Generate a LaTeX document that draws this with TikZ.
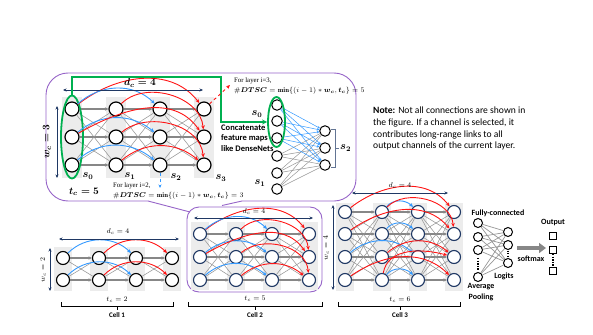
\documentclass[tikz,border=0pt]{standalone}
\usepackage{amsmath}
\usepackage{bm}
\usepackage{fontspec}
\newfontfamily\carl{Carlito}
\newfontfamily\tms{Liberation Serif}
\usetikzlibrary{arrows.meta,shapes.geometric}
\definecolor{pur}{RGB}{150,100,200}
\definecolor{grn}{RGB}{0,176,80}
\definecolor{navy}{RGB}{31,56,100}
\definecolor{egray}{RGB}{150,150,150}
\definecolor{hgray}{RGB}{135,135,135}
\definecolor{stripe}{RGB}{236,236,236}
\definecolor{lblue}{RGB}{51,153,255}
\definecolor{rred}{RGB}{255,20,20}
\tikzset{
 nd/.style={circle,draw=#1,fill=white,line width=1.2pt,minimum size=14pt,inner sep=0},
 cnd/.style={circle,draw=#1,fill=white,line width=1.1pt,minimum size=13pt,inner sep=0},
 sn/.style={circle,draw,fill=white,line width=1pt,minimum size=10.5pt,inner sep=0},
 fn/.style={circle,draw,fill=white,line width=1pt,minimum size=9pt,inner sep=0},
 sq/.style={rectangle,draw,fill=white,line width=1.1pt,minimum size=7pt,inner sep=0},
 ge/.style={egray,line width=0.55pt},
 geh/.style={hgray,line width=1.1pt,-{Stealth[length=3.5pt,width=3.5pt]}},
 ra/.style={rred,line width=0.9pt,-{Stealth[length=4pt,width=3.5pt]}},
 ba/.style={lblue,line width=0.9pt,-{Stealth[length=4pt,width=3.5pt]}},
 thinb/.style={lblue,line width=0.5pt,-{Stealth[length=2.5pt,width=2.5pt]}},
 thing/.style={egray,line width=0.5pt},
 dimarr/.style={navy,line width=0.8pt,{Stealth[length=3.5pt,width=3pt]}-{Stealth[length=3.5pt,width=3pt]}},
 big/.style={inner sep=0,font=\fontsize{10.5}{12}\selectfont\boldmath},
 mid/.style={inner sep=0,font=\fontsize{9.6}{11}\selectfont\boldmath},
 sml/.style={inner sep=0,font=\fontsize{7}{8}\selectfont},
 cbf/.style={inner sep=0,font=\carl\bfseries\fontsize{8}{9.5}\selectfont},
 tms7/.style={inner sep=0,anchor=west,font=\tms\fontsize{6.8}{8}\selectfont},
 brk/.style={black,line width=1pt},
 pbox/.style={pur,line width=0.9pt},
 dotv/.style={black,line width=1.3pt,dash pattern=on 1.3pt off 1.3pt},
}
\newcommand\gridnodes[7]{%
 \foreach \xx in {#2} {\fill[stripe] (\xx-#7,#5) rectangle (\xx+#7,#6);}
 \foreach \xx [count=\ci from 0] in {#2} {\foreach \yy [count=\ri from 0] in {#3} {\node[#4] (#1\ci\ri) at (\xx,\yy) {};}}
}
\newcommand\gridedges[2]{%
 \foreach \ci in {0,1,2} {\pgfmathtruncatemacro\nx{\ci+1}
  \foreach \ri in {0,...,#2} {\foreach \si in {0,...,#2} {%
   \ifnum\ri=\si\relax \draw[geh] (#1\ci\ri) -- (#1\nx\si); \else \draw[ge] (#1\ci\ri) -- (#1\nx\si); \fi}}}}
\begin{document}
\begin{tikzpicture}[x=1pt,y=-1pt]
\useasboundingbox (0,0) rectangle (593,334);
% ---------- top zoom box ----------
\draw[pbox,rounded corners=22] (148,201) -- (46,201) -- (46,73) -- (356,73) -- (356,201) -- (242,201);
\coordinate (t1) at (148,201); \coordinate (tip) at (190,212);
\coordinate (t2) at (222,205.5); \coordinate (t3) at (242,201);
\draw[pbox] (t1) -- (tip);
\draw[pbox] (t2) -- (t3);
% top-left grid
\gridnodes{A}{72,116,160,204}{109,137,165}{nd=black}{97}{178}{10}
\gridedges{A}{2}
\node[ellipse,draw=grn,line width=1.8pt,minimum width=22pt,minimum height=83pt,inner sep=0] (eA) at (72,137) {};
\draw[ra] (A00) to[out=38,in=128] (A30);
\draw[ba] (A00) to[out=42,in=135] (A20);
\draw[ra] (A10) to[out=45,in=95] (A31);
\draw[ba] (A01) to[out=40,in=140] (A21);
\draw[ra] (A01) to[out=30,in=125] (A31);
\draw[ra] (A11) to[out=40,in=95] (A32);
\draw[ba] (A02) to[out=42,in=140] (A22);
\draw[ra] (A12) to[out=40,in=140] (A32);
\coordinate (dA1) at (63,90); \coordinate (dA2) at (203,90);
\draw[dimarr] (dA1) -- (dA2);
\node[mid] (ldA) at (140,83) {$d_c = 4$};
\coordinate (wA1) at (57,106); \coordinate (wA2) at (57,178);
\draw[dimarr] (wA1) -- (wA2);
\node[mid,rotate=90] (lwA) at (47,142) {$w_c = 3$};
\node[big] (s0) at (88,176) {$s_0$};
\node[big] (s1) at (130,176) {$s_1$};
\node[big] (s2) at (176,177) {$s_2$};
\node[big] (s3) at (221,178) {$s_3$};
\node[mid] (tcA) at (84,192) {$t_c = 5$};
% dense part
\foreach \yy [count=\i] in {105,121,138,156,173,189} {\node[sn] (B\i) at (277,\yy) {};}
\foreach \yy [count=\i] in {131,148,165} {\node[sn] (C\i) at (325,\yy) {};}
\foreach \i in {4,5,6} {\foreach \j in {1,2,3} {\draw[thing] (B\i) -- (C\j);}}
\foreach \i in {1,2,3} {\foreach \j in {1,2,3} {\draw[thinb] (B\i) -- (C\j);}}
\node[ellipse,draw=grn,line width=1.8pt,minimum width=17pt,minimum height=50pt,inner sep=0] (eB) at (276.5,122) {};
\coordinate (g1) at (221,77);
\draw[grn,line width=1.8pt,-{Stealth[length=5pt,width=5pt]}] (eA.north) |- (g1) |- (eB.west);
\node[big] (s0b) at (257,114) {$s_0$};
\node[big] (s1b) at (260,183) {$s_1$};
\coordinate (k1) at (331,129); \coordinate (k2) at (335,129); \coordinate (k3) at (335,167); \coordinate (k4) at (331,167);
\coordinate (k5) at (335,148); \coordinate (k6) at (339,148);
\draw[navy!70,line width=0.7pt] (k1) -- (k2) -- (k3) -- (k4);
\draw[navy!70,line width=0.7pt] (k5) -- (k6);
\node[big,anchor=west] (s2b) at (340,148) {$s_2$};
\node[cbf,anchor=west,align=left,font=\carl\bfseries\fontsize{8.5}{10.4}\selectfont] (cc) at (221,138) {Concatenate\\feature maps\\like DenseNets};
\node[tms7] (f3) at (234,80.5) {For layer i=3,};
\node[tms7] (m3) at (234,90.5) {$\boldsymbol{\#DTSC} = \mathbf{min}\{(i-1)*\boldsymbol{w_c},\boldsymbol{t_c}\} = 5$};
\coordinate (r3) at (230,85);
\draw[rred,dashed,line width=0.9pt,-{Stealth[length=4pt,width=3.5pt]}] (A30) -- (r3);
\node[tms7] (f2) at (113,186) {For layer i=2,};
\node[tms7] (m2) at (113,195.5) {$\boldsymbol{\#DTSC} = \mathbf{min}\{(i-1)*\boldsymbol{w_c},\boldsymbol{t_c}\} = 3$};
\coordinate (b2) at (160,188);
\draw[lblue,dashed,line width=0.9pt,-{Stealth[length=3.5pt,width=3pt]}] (A22) -- (b2);
% note
\node[anchor=north west,align=left,inner sep=0,font=\carl\fontsize{9.6}{11.7}\selectfont] (note) at (373,107) {\textbf{Note:} Not all connections are shown in\\the figure. If a channel is selected, it\\contributes long-range links to all\\output channels of the current layer.};
% ---------- cell 1 ----------
\gridnodes{P}{63,99,136,172}{258,280}{cnd=black}{247}{291}{9}
\gridedges{P}{1}
\draw[ba] (P00) to[out=45,in=135] (P20);
\draw[ra] (P10) to[out=45,in=135] (P30);
\draw[ba] (P01) to[out=45,in=135] (P21);
\draw[ra] (P11) to[out=45,in=135] (P31);
\coordinate (dP1) at (59,239); \coordinate (dP2) at (179,239);
\draw[dimarr] (dP1) -- (dP2);
\node[sml] (ldP) at (118,232) {$d_c = 4$};
\coordinate (wP1) at (50,248); \coordinate (wP2) at (50,291);
\draw[dimarr] (wP1) -- (wP2);
\node[sml,rotate=90] (lwP) at (43,270) {$w_c = 2$};
\node[sml] (tcP) at (117,300) {$t_c = 2$};
\coordinate (bP1) at (61,302); \coordinate (bP2) at (61,306); \coordinate (bP3) at (173,306); \coordinate (bP4) at (173,302);
\coordinate (bP5) at (117,306); \coordinate (bP6) at (117,310);
\draw[brk] (bP1) -- (bP2) -- (bP3) -- (bP4);
\draw[brk] (bP5) -- (bP6);
\node[cbf,font=\carl\bfseries\fontsize{7}{8}\selectfont] (c1) at (117,315) {Cell 1};
% ---------- cell 2 ----------
\draw[pbox,rounded corners=12] (187,207) rectangle (322,292);
\gridnodes{Q}{200,236,272,309}{234,257,280}{cnd=navy}{222}{290}{9}
\gridedges{Q}{2}
\draw[ra] (Q00) to[out=38,in=128] (Q30);
\draw[ba] (Q00) to[out=42,in=135] (Q20);
\draw[ra] (Q10) to[out=45,in=95] (Q31);
\draw[ba] (Q01) to[out=40,in=140] (Q21);
\draw[ra] (Q01) to[out=30,in=125] (Q31);
\draw[ra] (Q11) to[out=40,in=95] (Q32);
\draw[ba] (Q02) to[out=42,in=140] (Q22);
\draw[ra] (Q12) to[out=40,in=140] (Q32);
\coordinate (dQ1) at (194,218); \coordinate (dQ2) at (313,218);
\draw[dimarr] (dQ1) -- (dQ2);
\node[sml] (ldQ) at (254,212) {$d_c = 4$};
\node[sml] (tcQ) at (255,299) {$t_c = 5$};
\coordinate (bQ1) at (188,302); \coordinate (bQ2) at (188,306); \coordinate (bQ3) at (322,306); \coordinate (bQ4) at (322,302);
\coordinate (bQ5) at (255,306); \coordinate (bQ6) at (255,310);
\draw[brk] (bQ1) -- (bQ2) -- (bQ3) -- (bQ4);
\draw[brk] (bQ5) -- (bQ6);
\node[cbf,font=\carl\bfseries\fontsize{7}{8}\selectfont] (c2) at (255,315) {Cell 2};
% ---------- cell 3 ----------
\gridnodes{R}{345,382,418,454}{212,234,257,280}{cnd=navy}{203}{291}{9}
\gridedges{R}{3}
\draw[ra] (R00) to[out=38,in=128] (R30);
\draw[ba] (R10) to[out=50,in=135] (R20);
\draw[ra] (R10) to[out=45,in=95] (R31);
\draw[ra] (R01) to[out=35,in=130] (R31);
\draw[ba] (R11) to[out=50,in=135] (R21);
\draw[ba] (R02) to[out=40,in=140] (R22);
\draw[ra] (R12) to[out=40,in=140] (R32);
\draw[ra] (R13) to[out=80,in=165] (R32);
\draw[ra] (R03) to[out=35,in=135] (R33);
\draw[ba] (R13) to[out=50,in=135] (R23);
\coordinate (dR1) at (352,193); \coordinate (dR2) at (448,193);
\draw[dimarr] (dR1) -- (dR2);
\node[sml] (ldR) at (400,186) {$d_c = 4$};
\coordinate (wR1) at (333,205); \coordinate (wR2) at (333,290);
\draw[dimarr] (wR1) -- (wR2);
\node[sml,rotate=90] (lwR) at (326,248) {$w_c = 4$};
\node[sml] (tcR) at (400,300) {$t_c = 6$};
\coordinate (bR1) at (338,302); \coordinate (bR2) at (338,306); \coordinate (bR3) at (460,306); \coordinate (bR4) at (460,302);
\coordinate (bR5) at (400,306); \coordinate (bR6) at (400,310);
\draw[brk] (bR1) -- (bR2) -- (bR3) -- (bR4);
\draw[brk] (bR5) -- (bR6);
\node[cbf,font=\carl\bfseries\fontsize{7}{8}\selectfont] (c3) at (400,315) {Cell 3};
% ---------- FC part ----------
\node[cbf] (fc) at (498,213) {Fully-connected};
\foreach \yy [count=\i] in {223,237,250,277} {\node[fn] (F\i) at (478,\yy) {};}
\foreach \yy [count=\i] in {232,245,263} {\node[fn] (G\i) at (508,\yy) {};}
\foreach \i in {1,2,3,4} {\foreach \j in {1,2,3} {\draw[egray,line width=0.7pt] (F\i) -- (G\j);}}
\coordinate (fd1) at (478,258); \coordinate (fd2) at (478,270);
\draw[dotv] (fd1) -- (fd2);
\coordinate (gd1) at (508,250.5); \coordinate (gd2) at (508,258);
\draw[dotv] (gd1) -- (gd2);
\node[cbf] (lg) at (504,276) {Logits};
\node[cbf,align=center,font=\carl\bfseries\fontsize{8}{10.5}\selectfont] (ap) at (481,292) {Average\\Pooling};
\coordinate (a1) at (517,248); \coordinate (a2) at (546,248);
\draw[egray!90!black,line width=3.5pt,-{Triangle[length=7pt,width=10pt]}] (a1) -- (a2);
\node[cbf] (sm) at (531,259) {softmax};
\node[cbf] (out) at (553,223) {Output};
\node[sq] (O1) at (553,236) {};
\node[sq] (O2) at (553,250) {};
\node[sq] (O3) at (553,271) {};
\draw[dotv] (O2) -- (O3);
\end{tikzpicture}
\end{document}
